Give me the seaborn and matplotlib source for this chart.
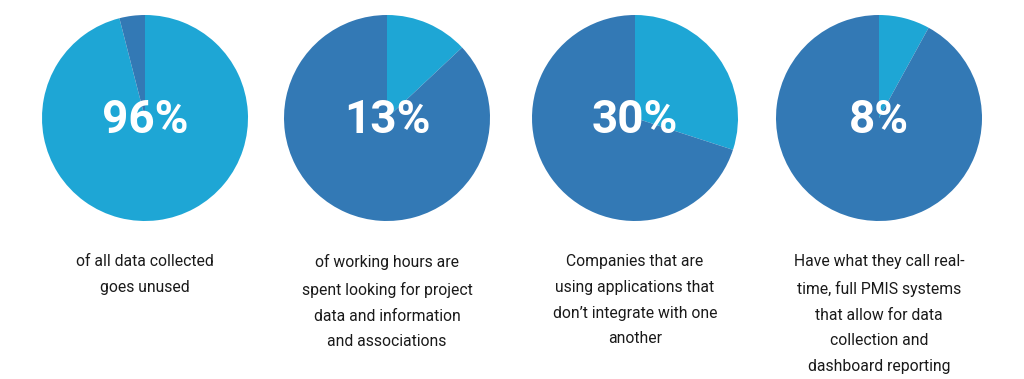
import matplotlib
matplotlib.use("Agg")
import matplotlib.pyplot as plt
import seaborn as sns

sns.set_theme(style="white")
plt.rcParams['font.family'] = ['Roboto', 'DejaVu Sans']

percentages = [96, 13, 30, 8]
labels = ["96%", "13%", "30%", "8%"]
captions = [
    "of all data collected\ngoes unused",
    "of working hours are\nspent looking for project\ndata and information\nand associations",
    "Companies that are\nusing applications that\ndon\u2019t integrate with one\nanother",
    "Have what they call real-\ntime, full PMIS systems\nthat allow for data\ncollection and\ndashboard reporting",
]
centers_px = [145, 387, 635, 879]

light = "#1ea6d5"
dark = "#3379b5"

W, H = 1024, 379
fig = plt.figure(figsize=(W / 100, H / 100), dpi=100)
fig.patch.set_facecolor("white")

r = 103
cy = 118
for p, lab, cap, cx in zip(percentages, labels, captions, centers_px):
    ax = fig.add_axes([(cx - r) / W, (H - cy - r) / H, 2 * r / W, 2 * r / H])
    ax.pie([p, 100 - p], colors=[light, dark], startangle=90, counterclock=False,
           wedgeprops=dict(linewidth=0), radius=1)
    ax.set_xlim(-1, 1)
    ax.set_ylim(-1, 1)
    ax.set_aspect("equal")
    ax.axis("off")
    ax.text(0, -0.02, lab, ha="center", va="center", color="white",
            fontsize=33, fontweight="bold")
    fig.text(cx / W, (H - 254) / H, cap, ha="center", va="top",
             fontsize=11.3, color="#1a1a1a", linespacing=1.9)

fig.savefig("out.png", dpi=100, facecolor="white")
